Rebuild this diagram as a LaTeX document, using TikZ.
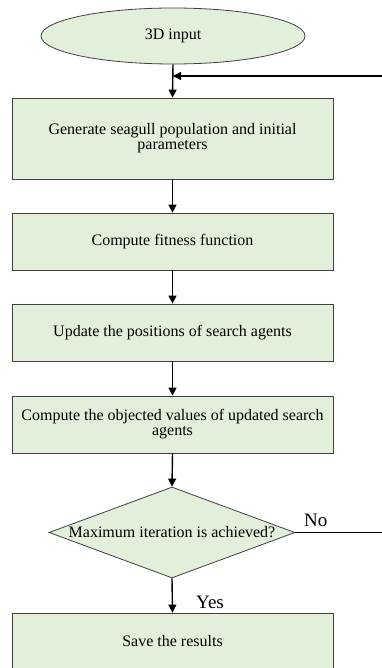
\documentclass[tikz,border=0pt]{standalone}
\usepackage{fontspec}
\setmainfont{Liberation Serif}
\usetikzlibrary{shapes.geometric,arrows.meta}
\definecolor{boxfill}{HTML}{E2EFDA}
\definecolor{boxline}{HTML}{404040}
\tikzset{
  every node/.style={font=\fontsize{16}{16}\selectfont},
  procbox/.style={draw=boxline, line width=0.8pt, fill=boxfill, rectangle, minimum width=321pt, inner sep=0pt, align=center},
  flow/.style={draw=black, line width=1.4pt, -{Triangle[length=8pt,width=8pt]}},
  plain/.style={draw=black, line width=0.8pt},
  lbl/.style={font=\fontsize{19}{19}\selectfont, inner sep=0pt}
}
\begin{document}
\begin{tikzpicture}[x=1pt,y=-1pt]
\useasboundingbox (0,0) rectangle (382,668);
\clip (0,0) rectangle (382,668);
\node[ellipse, draw=boxline, line width=0.8pt, fill=boxfill, minimum width=264pt, minimum height=56pt, inner sep=0pt] (start) at (173,36) {3D input};
\node[procbox, minimum height=81pt] (b1) at (172.5,138.5) {Generate seagull population and initial\\[-1pt]parameters};
\node[procbox, minimum height=57pt] (b2) at (172.5,241.5) {Compute fitness function};
\node[procbox, minimum height=57pt] (b3) at (172.5,332.5) {Update the positions of search agents};
\node[procbox, minimum height=57pt] (b4) at (172.5,424.5) {Compute the objected values of updated search\\[-1pt]agents};
\node[diamond, draw=boxline, line width=0.8pt, fill=boxfill, minimum width=246pt, minimum height=91pt, inner sep=0pt, aspect=2.7] (dec) at (172,532.5) {};
\node at (dec.center) {Maximum iteration is achieved?};
\node[procbox, minimum height=57pt] (b5) at (172.5,641.5) {Save the results};
\coordinate (fbR) at (382,76);
\coordinate (fbL) at (start.south |- fbR);
\coordinate (noR) at (382,532.5);
\draw[flow] (start.south) -- (b1.north);
\draw[flow] (fbR) -- (fbL);
\draw[flow] (b1.south) -- (b2.north);
\draw[flow] (b2.south) -- (b3.north);
\draw[flow] (b3.south) -- (b4.north);
\draw[flow] (b4.south) -- (dec.north);
\draw[flow] (dec.south) -- (b5.north);
\draw[plain] (dec.east) -- (noR);
\node[lbl, anchor=south west] (no) at (304,527) {No};
\node[lbl, anchor=south west] (yes) at (196,609) {Yes};
\end{tikzpicture}
\end{document}
